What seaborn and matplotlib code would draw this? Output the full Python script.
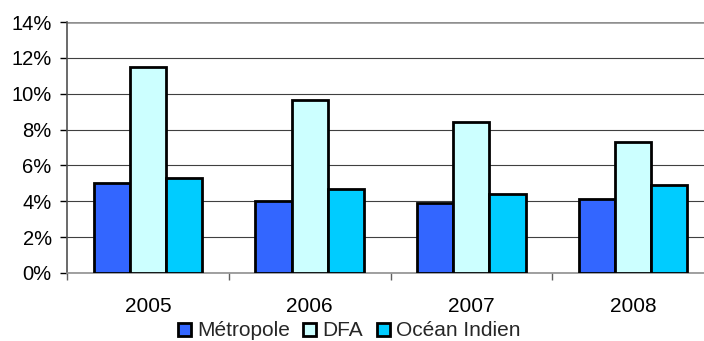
import matplotlib
matplotlib.use("Agg")
import matplotlib.pyplot as plt
import seaborn as sns
import pandas as pd
from matplotlib.ticker import FixedLocator, NullFormatter, FuncFormatter
from matplotlib.patches import Patch

years = ["2005", "2006", "2007", "2008"]
series = ["Métropole", "DFA", "Océan Indien"]
metropole = [5.0, 4.0, 3.9, 4.1]
dfa = [11.5, 9.65, 8.4, 7.3]
ocean_indien = [5.3, 4.7, 4.4, 4.9]
colors = ["#3366FF", "#CCFFFF", "#00CCFF"]
y_ticks = [0, 2, 4, 6, 8, 10, 12, 14]

rows = []
for name, vals in zip(series, [metropole, dfa, ocean_indien]):
    for y, v in zip(years, vals):
        rows.append({"year": y, "series": name, "value": v})
df = pd.DataFrame(rows)

sns.set_theme(style="white")
plt.rcParams["font.family"] = ["Liberation Sans", "DejaVu Sans"]

fig = plt.figure(figsize=(7.04, 3.41), dpi=100)
ax = fig.add_axes([67/704, 68/341, (714-67)/704, 251/341])

sns.barplot(data=df, x="year", y="value", hue="series", order=years,
            hue_order=series, palette=colors, saturation=1, width=0.672,
            edgecolor="black", linewidth=2.0, ax=ax, legend=False,
            errorbar=None, zorder=3)

ax.set_xlim(-0.5, 3.5)
ax.set_ylim(0, 14)
ax.set_xlabel("")
ax.set_ylabel("")

ax.yaxis.set_major_locator(FixedLocator(y_ticks))
ax.yaxis.set_major_formatter(FuncFormatter(lambda v, p: f"{int(v)}%"))
ax.grid(axis="y", color="#404040", linewidth=0.8, zorder=0)
ax.set_axisbelow(True)

ax.xaxis.set_major_locator(FixedLocator([-0.5, 0.5, 1.5, 2.5, 3.5]))
ax.xaxis.set_major_formatter(NullFormatter())
ax.xaxis.set_minor_locator(FixedLocator([0, 1, 2, 3]))
ax.set_xticklabels(years, minor=True)
ax.tick_params(axis="x", which="major", direction="out", length=5, width=1,
               color="#606060", bottom=True)
ax.tick_params(axis="x", which="minor", length=0, labelsize=15, pad=17,
               labelcolor="black", bottom=True)
ax.tick_params(axis="y", direction="out", length=5, width=1, color="black",
               labelsize=14.5, pad=6, left=True, labelcolor="black")

for s in ["top", "right"]:
    ax.spines[s].set_visible(False)
ax.spines["left"].set_color("#505050")
ax.spines["left"].set_linewidth(1.2)
ax.spines["bottom"].set_color("#909090")
ax.spines["bottom"].set_linewidth(1.2)
ax.axhline(14, color="#909090", linewidth=1.8, zorder=1)

handles = [Patch(facecolor=c, edgecolor="black", linewidth=2.0, label=n)
           for c, n in zip(colors, series)]
fig.legend(handles=handles, loc="center", bbox_to_anchor=(349/704, 1 - 331/341),
           ncol=3, frameon=False, fontsize=15, handlelength=0.62,
           handleheight=0.6, handletextpad=0.3, columnspacing=0.65,
           borderpad=0, borderaxespad=0)

fig.savefig("out.png", dpi=100)
